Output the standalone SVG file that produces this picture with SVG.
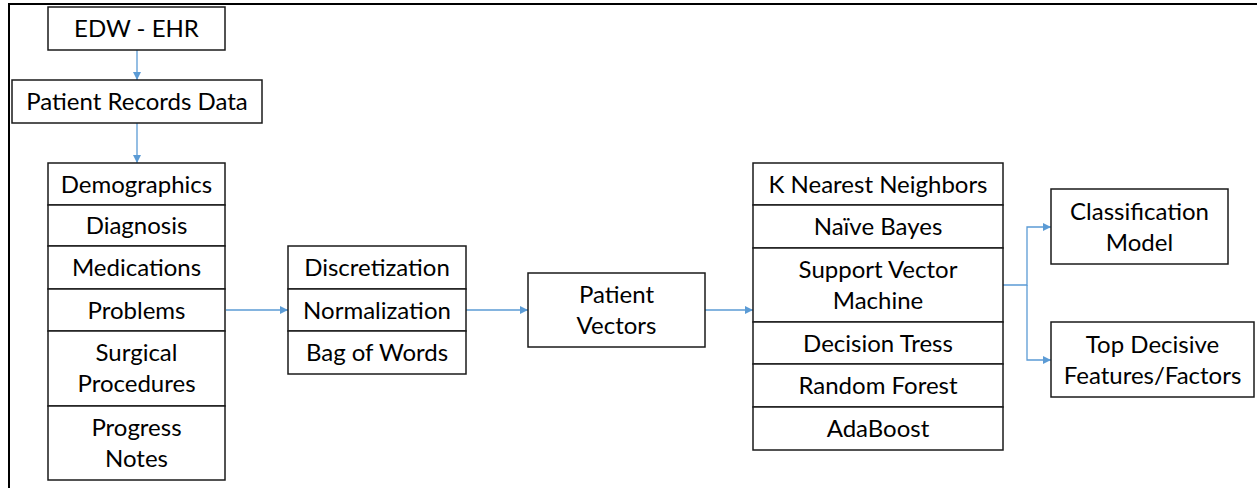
<svg xmlns="http://www.w3.org/2000/svg" width="1257" height="488" viewBox="0 0 1257 488">
<style>
  .box { fill: #ffffff; stroke: #1a1a1a; stroke-width: 1.5; }
  .t { font-family: Lato, "Noto Sans", "Liberation Sans", sans-serif; font-size: 24px; fill: #000000; text-anchor: middle; }
  .conn { fill: none; stroke: #5B9BD5; stroke-width: 1.3; }
  .frame { stroke: #000000; stroke-width: 2; fill: none; }
</style>
<defs>
  <marker id="arr" markerUnits="userSpaceOnUse" markerWidth="9" markerHeight="9" refX="8" refY="4" orient="auto">
    <path d="M0,0 L8,4 L0,8 z" fill="#5B9BD5"/>
  </marker>
</defs>
<rect x="0" y="0" width="1257" height="488" fill="#ffffff"/>
<path class="frame" d="M9,488 V4 H1257"/>

<g id="connectors">
  <path class="conn" d="M137,50 V80" marker-end="url(#arr)"/>
  <path class="conn" d="M137,123 V163" marker-end="url(#arr)"/>
  <path class="conn" d="M226,310 H288" marker-end="url(#arr)"/>
  <path class="conn" d="M466,310 H528" marker-end="url(#arr)"/>
  <path class="conn" d="M705,310 H753" marker-end="url(#arr)"/>
  <path class="conn" d="M1003,285 H1027 V227 H1051" marker-end="url(#arr)"/>
  <path class="conn" d="M1027,285 V360 H1051" marker-end="url(#arr)"/>
</g>

<g id="edw-ehr">
  <rect class="box" x="48" y="7" width="177" height="43"/>
  <text class="t" x="136.5" y="37">EDW - EHR</text>
</g>

<g id="patient-records">
  <rect class="box" x="12" y="80" width="250" height="43"/>
  <text class="t" x="137" y="110">Patient Records Data</text>
</g>

<g id="record-types">
  <g id="demographics">
    <rect class="box" x="48" y="163" width="177" height="42"/>
    <text class="t" x="136.5" y="192.5">Demographics</text>
  </g>
  <g id="diagnosis">
    <rect class="box" x="48" y="205" width="177" height="41"/>
    <text class="t" x="136.5" y="234">Diagnosis</text>
  </g>
  <g id="medications">
    <rect class="box" x="48" y="246" width="177" height="43"/>
    <text class="t" x="136.5" y="276">Medications</text>
  </g>
  <g id="problems">
    <rect class="box" x="48" y="289" width="177" height="42"/>
    <text class="t" x="136.5" y="318.5">Problems</text>
  </g>
  <g id="surgical">
    <rect class="box" x="48" y="331" width="177" height="75"/>
    <text class="t" x="136.5" y="361">Surgical</text>
    <text class="t" x="136.5" y="392">Procedures</text>
  </g>
  <g id="progress">
    <rect class="box" x="48" y="406" width="177" height="74"/>
    <text class="t" x="136.5" y="436">Progress</text>
    <text class="t" x="136.5" y="467">Notes</text>
  </g>
</g>

<g id="preprocessing">
  <g id="discretization">
    <rect class="box" x="288" y="246" width="178" height="43"/>
    <text class="t" x="377" y="276">Discretization</text>
  </g>
  <g id="normalization">
    <rect class="box" x="288" y="289" width="178" height="42"/>
    <text class="t" x="377" y="318.5">Normalization</text>
  </g>
  <g id="bag-of-words">
    <rect class="box" x="288" y="331" width="178" height="43"/>
    <text class="t" x="377" y="361">Bag of Words</text>
  </g>
</g>

<g id="patient-vectors">
  <rect class="box" x="528" y="273" width="177" height="74"/>
  <text class="t" x="616.5" y="303">Patient</text>
  <text class="t" x="616.5" y="334">Vectors</text>
</g>

<g id="classifiers">
  <g id="knn">
    <rect class="box" x="753" y="163" width="250" height="42"/>
    <text class="t" x="878" y="192.5">K Nearest Neighbors</text>
  </g>
  <g id="naive-bayes">
    <rect class="box" x="753" y="205" width="250" height="43"/>
    <text class="t" x="878" y="235">Naïve Bayes</text>
  </g>
  <g id="svm">
    <rect class="box" x="753" y="248" width="250" height="74"/>
    <text class="t" x="878" y="278">Support Vector</text>
    <text class="t" x="878" y="309">Machine</text>
  </g>
  <g id="decision-trees">
    <rect class="box" x="753" y="322" width="250" height="42"/>
    <text class="t" x="878" y="351.5">Decision Tress</text>
  </g>
  <g id="random-forest">
    <rect class="box" x="753" y="364" width="250" height="43"/>
    <text class="t" x="878" y="394">Random Forest</text>
  </g>
  <g id="adaboost">
    <rect class="box" x="753" y="407" width="250" height="43"/>
    <text class="t" x="878" y="437">AdaBoost</text>
  </g>
</g>

<g id="classification-model">
  <rect class="box" x="1051" y="189" width="177" height="75"/>
  <text class="t" x="1139.5" y="219.5">Classification</text>
  <text class="t" x="1139.5" y="250.5">Model</text>
</g>

<g id="top-features">
  <rect class="box" x="1051" y="322" width="203" height="75"/>
  <text class="t" x="1152.5" y="352.5">Top Decisive</text>
  <text class="t" x="1152.5" y="383.5">Features/Factors</text>
</g>
</svg>
